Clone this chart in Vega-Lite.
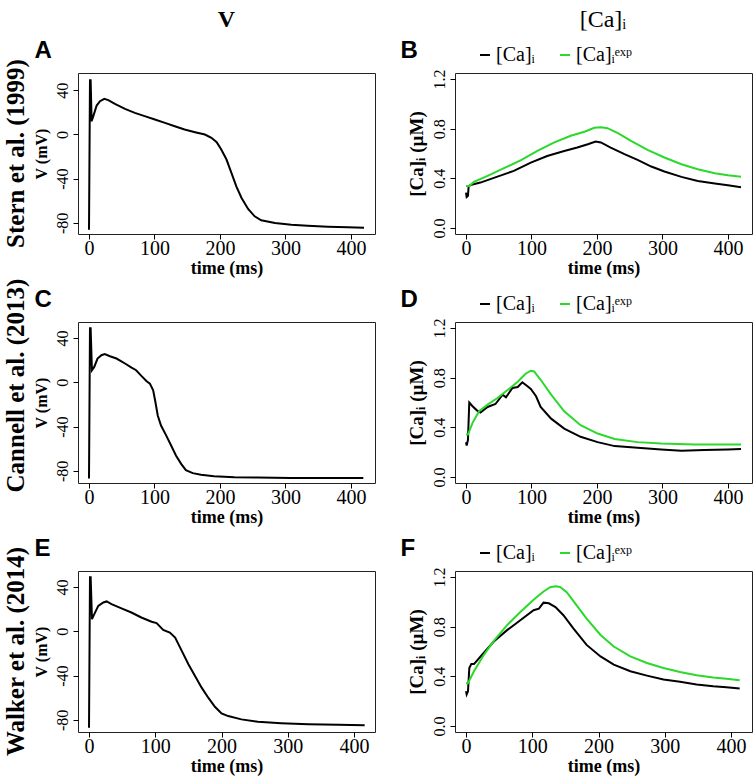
{
  "$schema": "https://vega.github.io/schema/vega-lite/v6.json",
  "background": "white",
  "padding": {"left": 3, "top": 7, "right": 2, "bottom": 2},
  "datasets": {
    "vdata": [
      {"p":"A","t":0,"v":-86.1},{"p":"A","t":1.5,"v":49},{"p":"A","t":2.5,"v":49},{"p":"A","t":4,"v":12},{"p":"A","t":6.6,"v":16.5},{"p":"A","t":11.7,"v":26.1},{"p":"A","t":16.8,"v":30},{"p":"A","t":23.4,"v":32.2},{"p":"A","t":29.5,"v":31},{"p":"A","t":39.6,"v":27.6},{"p":"A","t":55,"v":23.1},{"p":"A","t":70,"v":19.5},{"p":"A","t":85,"v":16.5},{"p":"A","t":100.6,"v":13.5},{"p":"A","t":116,"v":10.4},{"p":"A","t":131,"v":7.4},{"p":"A","t":146,"v":4.4},{"p":"A","t":162,"v":2},{"p":"A","t":177,"v":-0.1},{"p":"A","t":187,"v":-3.1},{"p":"A","t":195,"v":-7.1},{"p":"A","t":202,"v":-13.7},{"p":"A","t":210,"v":-22.7},{"p":"A","t":217.5,"v":-34.8},{"p":"A","t":225,"v":-46.9},{"p":"A","t":233,"v":-57.4},{"p":"A","t":243,"v":-67.4},{"p":"A","t":253,"v":-74},{"p":"A","t":263,"v":-77.6},{"p":"A","t":284,"v":-80.1},{"p":"A","t":309,"v":-81.6},{"p":"A","t":334,"v":-82.5},{"p":"A","t":365,"v":-83.4},{"p":"A","t":395,"v":-84},{"p":"A","t":420,"v":-84.3},
      {"p":"C","t":0,"v":-87},{"p":"C","t":1.5,"v":48.8},{"p":"C","t":2.5,"v":48.8},{"p":"C","t":4.5,"v":10.9},{"p":"C","t":8,"v":13.9},{"p":"C","t":13,"v":21.5},{"p":"C","t":19,"v":24.5},{"p":"C","t":24,"v":25.5},{"p":"C","t":32,"v":23.6},{"p":"C","t":42,"v":21.5},{"p":"C","t":55,"v":17},{"p":"C","t":65,"v":13.3},{"p":"C","t":72,"v":10.9},{"p":"C","t":80,"v":5.8},{"p":"C","t":87.6,"v":1.2},{"p":"C","t":93,"v":-1.2},{"p":"C","t":98,"v":-7.3},{"p":"C","t":101,"v":-16.4},{"p":"C","t":105,"v":-30},{"p":"C","t":110,"v":-39.1},{"p":"C","t":118,"v":-48.2},{"p":"C","t":125.6,"v":-57.3},{"p":"C","t":133,"v":-66.4},{"p":"C","t":141,"v":-73.9},{"p":"C","t":148,"v":-79.4},{"p":"C","t":158.5,"v":-82.1},{"p":"C","t":171,"v":-83.6},{"p":"C","t":191,"v":-84.8},{"p":"C","t":222,"v":-85.8},{"p":"C","t":257,"v":-86.1},{"p":"C","t":308,"v":-86.4},{"p":"C","t":419,"v":-86.4},
      {"p":"E","t":0,"v":-87.2},{"p":"E","t":1.5,"v":48.8},{"p":"E","t":2.5,"v":48.8},{"p":"E","t":4.5,"v":11},{"p":"E","t":8,"v":15.5},{"p":"E","t":14,"v":23},{"p":"E","t":21.6,"v":26.1},{"p":"E","t":26.6,"v":27},{"p":"E","t":34,"v":24.6},{"p":"E","t":49,"v":20.7},{"p":"E","t":64,"v":17},{"p":"E","t":79,"v":12.5},{"p":"E","t":94.5,"v":8.6},{"p":"E","t":102,"v":7.4},{"p":"E","t":112,"v":1.3},{"p":"E","t":122,"v":-1.1},{"p":"E","t":130,"v":-5.6},{"p":"E","t":140,"v":-17.7},{"p":"E","t":150,"v":-29.8},{"p":"E","t":160,"v":-40.4},{"p":"E","t":170,"v":-50.9},{"p":"E","t":180,"v":-60},{"p":"E","t":190,"v":-68.2},{"p":"E","t":200,"v":-74.2},{"p":"E","t":210,"v":-76.6},{"p":"E","t":230,"v":-79.6},{"p":"E","t":255,"v":-81.8},{"p":"E","t":290,"v":-83},{"p":"E","t":331,"v":-83.9},{"p":"E","t":376,"v":-84.5},{"p":"E","t":416,"v":-84.8}
    ],
    "cadata": [
      {"p":"B","s":"[Ca]ᵢ","t":0,"c":0.285},{"p":"B","s":"[Ca]ᵢ","t":1,"c":0.25},{"p":"B","s":"[Ca]ᵢ","t":3,"c":0.26},{"p":"B","s":"[Ca]ᵢ","t":4,"c":0.334},{"p":"B","s":"[Ca]ᵢ","t":7,"c":0.347},{"p":"B","s":"[Ca]ᵢ","t":22,"c":0.366},{"p":"B","s":"[Ca]ᵢ","t":48,"c":0.414},{"p":"B","s":"[Ca]ᵢ","t":73,"c":0.46},{"p":"B","s":"[Ca]ᵢ","t":99,"c":0.527},{"p":"B","s":"[Ca]ᵢ","t":124,"c":0.58},{"p":"B","s":"[Ca]ᵢ","t":150,"c":0.62},{"p":"B","s":"[Ca]ᵢ","t":170,"c":0.648},{"p":"B","s":"[Ca]ᵢ","t":186,"c":0.675},{"p":"B","s":"[Ca]ᵢ","t":198,"c":0.697},{"p":"B","s":"[Ca]ᵢ","t":206,"c":0.689},{"p":"B","s":"[Ca]ᵢ","t":221,"c":0.648},{"p":"B","s":"[Ca]ᵢ","t":242,"c":0.595},{"p":"B","s":"[Ca]ᵢ","t":262,"c":0.549},{"p":"B","s":"[Ca]ᵢ","t":283,"c":0.495},{"p":"B","s":"[Ca]ᵢ","t":303,"c":0.455},{"p":"B","s":"[Ca]ᵢ","t":329,"c":0.412},{"p":"B","s":"[Ca]ᵢ","t":354,"c":0.379},{"p":"B","s":"[Ca]ᵢ","t":380,"c":0.358},{"p":"B","s":"[Ca]ᵢ","t":400,"c":0.344},{"p":"B","s":"[Ca]ᵢ","t":420,"c":0.328},
      {"p":"B","s":"[Ca]ᵢᵉˣᵖ","t":0,"c":0.339},{"p":"B","s":"[Ca]ᵢᵉˣᵖ","t":5,"c":0.339},{"p":"B","s":"[Ca]ᵢᵉˣᵖ","t":12,"c":0.371},{"p":"B","s":"[Ca]ᵢᵉˣᵖ","t":33,"c":0.42},{"p":"B","s":"[Ca]ᵢᵉˣᵖ","t":58,"c":0.482},{"p":"B","s":"[Ca]ᵢᵉˣᵖ","t":84,"c":0.546},{"p":"B","s":"[Ca]ᵢᵉˣᵖ","t":109,"c":0.621},{"p":"B","s":"[Ca]ᵢᵉˣᵖ","t":135,"c":0.689},{"p":"B","s":"[Ca]ᵢᵉˣᵖ","t":160,"c":0.743},{"p":"B","s":"[Ca]ᵢᵉˣᵖ","t":181,"c":0.775},{"p":"B","s":"[Ca]ᵢᵉˣᵖ","t":196,"c":0.807},{"p":"B","s":"[Ca]ᵢᵉˣᵖ","t":206,"c":0.812},{"p":"B","s":"[Ca]ᵢᵉˣᵖ","t":216,"c":0.804},{"p":"B","s":"[Ca]ᵢᵉˣᵖ","t":232,"c":0.764},{"p":"B","s":"[Ca]ᵢᵉˣᵖ","t":252,"c":0.702},{"p":"B","s":"[Ca]ᵢᵉˣᵖ","t":278,"c":0.627},{"p":"B","s":"[Ca]ᵢᵉˣᵖ","t":303,"c":0.568},{"p":"B","s":"[Ca]ᵢᵉˣᵖ","t":329,"c":0.514},{"p":"B","s":"[Ca]ᵢᵉˣᵖ","t":354,"c":0.473},{"p":"B","s":"[Ca]ᵢᵉˣᵖ","t":380,"c":0.441},{"p":"B","s":"[Ca]ᵢᵉˣᵖ","t":400,"c":0.425},{"p":"B","s":"[Ca]ᵢᵉˣᵖ","t":420,"c":0.412},
      {"p":"D","s":"[Ca]ᵢ","t":0,"c":0.28},{"p":"D","s":"[Ca]ᵢ","t":1,"c":0.254},{"p":"D","s":"[Ca]ᵢ","t":3,"c":0.3},{"p":"D","s":"[Ca]ᵢ","t":5,"c":0.6},{"p":"D","s":"[Ca]ᵢ","t":10,"c":0.57},{"p":"D","s":"[Ca]ᵢ","t":17,"c":0.535},{"p":"D","s":"[Ca]ᵢ","t":22,"c":0.52},{"p":"D","s":"[Ca]ᵢ","t":33,"c":0.564},{"p":"D","s":"[Ca]ᵢ","t":45,"c":0.588},{"p":"D","s":"[Ca]ᵢ","t":56,"c":0.663},{"p":"D","s":"[Ca]ᵢ","t":61,"c":0.642},{"p":"D","s":"[Ca]ᵢ","t":71,"c":0.717},{"p":"D","s":"[Ca]ᵢ","t":79,"c":0.725},{"p":"D","s":"[Ca]ᵢ","t":86,"c":0.762},{"p":"D","s":"[Ca]ᵢ","t":91,"c":0.743},{"p":"D","s":"[Ca]ᵢ","t":99,"c":0.709},{"p":"D","s":"[Ca]ᵢ","t":107,"c":0.65},{"p":"D","s":"[Ca]ᵢ","t":114,"c":0.564},{"p":"D","s":"[Ca]ᵢ","t":130,"c":0.47},{"p":"D","s":"[Ca]ᵢ","t":150,"c":0.39},{"p":"D","s":"[Ca]ᵢ","t":175,"c":0.324},{"p":"D","s":"[Ca]ᵢ","t":201,"c":0.281},{"p":"D","s":"[Ca]ᵢ","t":227,"c":0.249},{"p":"D","s":"[Ca]ᵢ","t":262,"c":0.235},{"p":"D","s":"[Ca]ᵢ","t":298,"c":0.222},{"p":"D","s":"[Ca]ᵢ","t":329,"c":0.211},{"p":"D","s":"[Ca]ᵢ","t":364,"c":0.217},{"p":"D","s":"[Ca]ᵢ","t":400,"c":0.222},{"p":"D","s":"[Ca]ᵢ","t":420,"c":0.225},
      {"p":"D","s":"[Ca]ᵢᵉˣᵖ","t":0,"c":0.342},{"p":"D","s":"[Ca]ᵢᵉˣᵖ","t":3,"c":0.342},{"p":"D","s":"[Ca]ᵢᵉˣᵖ","t":10,"c":0.436},{"p":"D","s":"[Ca]ᵢᵉˣᵖ","t":20,"c":0.53},{"p":"D","s":"[Ca]ᵢᵉˣᵖ","t":33,"c":0.583},{"p":"D","s":"[Ca]ᵢᵉˣᵖ","t":48,"c":0.636},{"p":"D","s":"[Ca]ᵢᵉˣᵖ","t":63,"c":0.698},{"p":"D","s":"[Ca]ᵢᵉˣᵖ","t":79,"c":0.767},{"p":"D","s":"[Ca]ᵢᵉˣᵖ","t":91,"c":0.832},{"p":"D","s":"[Ca]ᵢᵉˣᵖ","t":99,"c":0.856},{"p":"D","s":"[Ca]ᵢᵉˣᵖ","t":104,"c":0.85},{"p":"D","s":"[Ca]ᵢᵉˣᵖ","t":114,"c":0.783},{"p":"D","s":"[Ca]ᵢᵉˣᵖ","t":130,"c":0.663},{"p":"D","s":"[Ca]ᵢᵉˣᵖ","t":150,"c":0.529},{"p":"D","s":"[Ca]ᵢᵉˣᵖ","t":175,"c":0.417},{"p":"D","s":"[Ca]ᵢᵉˣᵖ","t":201,"c":0.35},{"p":"D","s":"[Ca]ᵢᵉˣᵖ","t":227,"c":0.307},{"p":"D","s":"[Ca]ᵢᵉˣᵖ","t":262,"c":0.281},{"p":"D","s":"[Ca]ᵢᵉˣᵖ","t":298,"c":0.27},{"p":"D","s":"[Ca]ᵢᵉˣᵖ","t":349,"c":0.262},{"p":"D","s":"[Ca]ᵢᵉˣᵖ","t":420,"c":0.262},
      {"p":"F","s":"[Ca]ᵢ","t":0,"c":0.281},{"p":"F","s":"[Ca]ᵢ","t":1,"c":0.255},{"p":"F","s":"[Ca]ᵢ","t":3,"c":0.28},{"p":"F","s":"[Ca]ᵢ","t":5,"c":0.467},{"p":"F","s":"[Ca]ᵢ","t":8,"c":0.499},{"p":"F","s":"[Ca]ᵢ","t":12,"c":0.499},{"p":"F","s":"[Ca]ᵢ","t":22,"c":0.56},{"p":"F","s":"[Ca]ᵢ","t":42,"c":0.68},{"p":"F","s":"[Ca]ᵢ","t":62,"c":0.772},{"p":"F","s":"[Ca]ᵢ","t":82,"c":0.852},{"p":"F","s":"[Ca]ᵢ","t":102,"c":0.932},{"p":"F","s":"[Ca]ᵢ","t":110,"c":0.945},{"p":"F","s":"[Ca]ᵢ","t":117,"c":0.993},{"p":"F","s":"[Ca]ᵢ","t":125,"c":0.988},{"p":"F","s":"[Ca]ᵢ","t":135,"c":0.958},{"p":"F","s":"[Ca]ᵢ","t":147,"c":0.892},{"p":"F","s":"[Ca]ᵢ","t":162,"c":0.786},{"p":"F","s":"[Ca]ᵢ","t":182,"c":0.653},{"p":"F","s":"[Ca]ᵢ","t":203,"c":0.56},{"p":"F","s":"[Ca]ᵢ","t":223,"c":0.494},{"p":"F","s":"[Ca]ᵢ","t":248,"c":0.441},{"p":"F","s":"[Ca]ᵢ","t":273,"c":0.406},{"p":"F","s":"[Ca]ᵢ","t":298,"c":0.374},{"p":"F","s":"[Ca]ᵢ","t":323,"c":0.356},{"p":"F","s":"[Ca]ᵢ","t":348,"c":0.334},{"p":"F","s":"[Ca]ᵢ","t":373,"c":0.321},{"p":"F","s":"[Ca]ᵢ","t":393,"c":0.313},{"p":"F","s":"[Ca]ᵢ","t":413,"c":0.303},
      {"p":"F","s":"[Ca]ᵢᵉˣᵖ","t":0,"c":0.345},{"p":"F","s":"[Ca]ᵢᵉˣᵖ","t":3,"c":0.345},{"p":"F","s":"[Ca]ᵢᵉˣᵖ","t":12,"c":0.441},{"p":"F","s":"[Ca]ᵢᵉˣᵖ","t":27,"c":0.573},{"p":"F","s":"[Ca]ᵢᵉˣᵖ","t":42,"c":0.685},{"p":"F","s":"[Ca]ᵢᵉˣᵖ","t":62,"c":0.812},{"p":"F","s":"[Ca]ᵢᵉˣᵖ","t":82,"c":0.918},{"p":"F","s":"[Ca]ᵢᵉˣᵖ","t":102,"c":1.017},{"p":"F","s":"[Ca]ᵢᵉˣᵖ","t":117,"c":1.083},{"p":"F","s":"[Ca]ᵢᵉˣᵖ","t":127,"c":1.118},{"p":"F","s":"[Ca]ᵢᵉˣᵖ","t":135,"c":1.126},{"p":"F","s":"[Ca]ᵢᵉˣᵖ","t":142,"c":1.12},{"p":"F","s":"[Ca]ᵢᵉˣᵖ","t":152,"c":1.078},{"p":"F","s":"[Ca]ᵢᵉˣᵖ","t":167,"c":0.972},{"p":"F","s":"[Ca]ᵢᵉˣᵖ","t":182,"c":0.865},{"p":"F","s":"[Ca]ᵢᵉˣᵖ","t":203,"c":0.733},{"p":"F","s":"[Ca]ᵢᵉˣᵖ","t":223,"c":0.64},{"p":"F","s":"[Ca]ᵢᵉˣᵖ","t":248,"c":0.56},{"p":"F","s":"[Ca]ᵢᵉˣᵖ","t":273,"c":0.507},{"p":"F","s":"[Ca]ᵢᵉˣᵖ","t":298,"c":0.467},{"p":"F","s":"[Ca]ᵢᵉˣᵖ","t":323,"c":0.435},{"p":"F","s":"[Ca]ᵢᵉˣᵖ","t":348,"c":0.409},{"p":"F","s":"[Ca]ᵢᵉˣᵖ","t":373,"c":0.39},{"p":"F","s":"[Ca]ᵢᵉˣᵖ","t":393,"c":0.38},{"p":"F","s":"[Ca]ᵢᵉˣᵖ","t":413,"c":0.369}
    ]
  },
  "hconcat": [
    {
      "title": {"text": "V", "fontSize": 24, "fontWeight": "bold", "font": "Liberation Serif", "anchor": "middle", "offset": 6, "dx": 37},
      "spacing": 88,
      "bounds": "flush",
      "resolve": {"scale": {"x": "independent", "y": "independent"}},
      "vconcat": [
        {
          "width": 297, "height": 161,
          "title": {"text": "Stern et al. (1999)", "orient": "left", "anchor": "middle", "frame": "group", "fontSize": 25, "fontWeight": "bold", "font": "Liberation Serif", "offset": 4, "dx": 0},
          "data": {"name": "vdata"},
          "transform": [{"filter": "datum.p === 'A'"}],
          "resolve": {"axis": {"x": "independent"}},
          "layer": [
            {
              "mark": {"type": "line", "color": "black", "strokeWidth": 2},
              "encoding": {
                "x": {"field": "t", "type": "quantitative", "scale": {"domain": [-16.8, 436.8], "nice": false, "zero": false}, "axis": {"values": [0, 100, 200, 300, 400], "title": "time (ms)"}},
                "y": {"field": "v", "type": "quantitative", "scale": {"domain": [-90, 55.5], "nice": false, "zero": false}, "axis": {"values": [-80, -60, -40, -20, 0, 20, 40], "labelExpr": "datum.value % 40 === 0 ? '' + datum.value : ''", "title": "V (mV)"}}
              }
            },
            {
              "mark": {"type": "line", "strokeOpacity": 0},
              "encoding": {
                "x": {"field": "t", "type": "quantitative", "axis": {"orient": "top", "labels": false, "ticks": false, "domain": false, "title": "A", "titleFont": "Liberation Sans", "titleFontSize": 24, "titleFontWeight": "bold", "titleX": -44, "titleY": -16, "titleAlign": "left", "titleBaseline": "alphabetic", "titleAngle": 0}},
                "y": {"field": "v", "type": "quantitative"}
              }
            }
          ]
        },
        {
          "width": 297, "height": 161,
          "title": {"text": "Cannell et al.  (2013)", "orient": "left", "anchor": "middle", "frame": "group", "fontSize": 25, "fontWeight": "bold", "font": "Liberation Serif", "offset": 4, "dx": 17},
          "data": {"name": "vdata"},
          "transform": [{"filter": "datum.p === 'C'"}],
          "resolve": {"axis": {"x": "independent"}},
          "layer": [
            {
              "mark": {"type": "line", "color": "black", "strokeWidth": 2},
              "encoding": {
                "x": {"field": "t", "type": "quantitative", "scale": {"domain": [-16.8, 436.8], "nice": false, "zero": false}, "axis": {"values": [0, 100, 200, 300, 400], "title": "time (ms)"}},
                "y": {"field": "v", "type": "quantitative", "scale": {"domain": [-91, 54.5], "nice": false, "zero": false}, "axis": {"values": [-80, -60, -40, -20, 0, 20, 40], "labelExpr": "datum.value % 40 === 0 ? '' + datum.value : ''", "title": "V (mV)"}}
              }
            },
            {
              "mark": {"type": "line", "strokeOpacity": 0},
              "encoding": {
                "x": {"field": "t", "type": "quantitative", "axis": {"orient": "top", "labels": false, "ticks": false, "domain": false, "title": "C", "titleFont": "Liberation Sans", "titleFontSize": 24, "titleFontWeight": "bold", "titleX": -44, "titleY": -16, "titleAlign": "left", "titleBaseline": "alphabetic", "titleAngle": 0}},
                "y": {"field": "v", "type": "quantitative"}
              }
            }
          ]
        },
        {
          "width": 297, "height": 161,
          "title": {"text": "Walker et al. (2014)", "orient": "left", "anchor": "middle", "frame": "group", "fontSize": 25, "fontWeight": "bold", "font": "Liberation Serif", "offset": 4, "dx": 0},
          "data": {"name": "vdata"},
          "transform": [{"filter": "datum.p === 'E'"}],
          "resolve": {"axis": {"x": "independent"}},
          "layer": [
            {
              "mark": {"type": "line", "color": "black", "strokeWidth": 2},
              "encoding": {
                "x": {"field": "t", "type": "quantitative", "scale": {"domain": [-16.6, 431.6], "nice": false, "zero": false}, "axis": {"values": [0, 100, 200, 300, 400], "title": "time (ms)"}},
                "y": {"field": "v", "type": "quantitative", "scale": {"domain": [-91, 54.5], "nice": false, "zero": false}, "axis": {"values": [-80, -60, -40, -20, 0, 20, 40], "labelExpr": "datum.value % 40 === 0 ? '' + datum.value : ''", "title": "V (mV)"}}
              }
            },
            {
              "mark": {"type": "line", "strokeOpacity": 0},
              "encoding": {
                "x": {"field": "t", "type": "quantitative", "axis": {"orient": "top", "labels": false, "ticks": false, "domain": false, "title": "E", "titleFont": "Liberation Sans", "titleFontSize": 24, "titleFontWeight": "bold", "titleX": -44, "titleY": -16, "titleAlign": "left", "titleBaseline": "alphabetic", "titleAngle": 0}},
                "y": {"field": "v", "type": "quantitative"}
              }
            }
          ]
        }
      ]
    },
    {
      "title": {"text": "[Ca]ᵢ", "fontSize": 24, "fontWeight": "normal", "font": "Liberation Serif, DejaVu Serif", "anchor": "middle", "offset": 6, "dx": 27},
      "spacing": 88,
      "bounds": "flush",
      "resolve": {"scale": {"x": "independent", "y": "independent", "color": "independent"}, "legend": {"color": "independent"}},
      "vconcat": [
        {
          "width": 297, "height": 161,
          "data": {"name": "cadata"},
          "transform": [{"filter": "datum.p === 'B'"}],
          "resolve": {"axis": {"x": "independent"}},
          "layer": [
            {
              "mark": {"type": "line", "strokeWidth": 2},
              "encoding": {
                "x": {"field": "t", "type": "quantitative", "scale": {"domain": [-16.8, 436.8], "nice": false, "zero": false}, "axis": {"values": [0, 100, 200, 300, 400], "title": "time (ms)"}},
                "y": {"field": "c", "type": "quantitative", "scale": {"domain": [-0.048, 1.248], "nice": false, "zero": false}, "axis": {"values": [0, 0.2, 0.4, 0.6, 0.8, 1.0, 1.2], "labelExpr": "round(datum.value * 10) % 4 === 0 ? format(datum.value, '.1f') : ''", "title": "[Ca]ᵢ (µM)", "titleFontSize": 19}},
                "color": {"field": "s", "type": "nominal", "scale": {"domain": ["[Ca]ᵢ", "[Ca]ᵢᵉˣᵖ"], "range": ["black", "#2bd92b"]}, "legend": {"orient": "none", "legendX": 20, "legendY": -28, "direction": "horizontal", "title": null}}
              }
            },
            {
              "mark": {"type": "line", "strokeOpacity": 0},
              "encoding": {
                "x": {"field": "t", "type": "quantitative", "axis": {"orient": "top", "labels": false, "ticks": false, "domain": false, "title": "B", "titleFont": "Liberation Sans", "titleFontSize": 24, "titleFontWeight": "bold", "titleX": -55, "titleY": -16, "titleAlign": "left", "titleBaseline": "alphabetic", "titleAngle": 0}},
                "y": {"field": "c", "type": "quantitative"}
              }
            }
          ]
        },
        {
          "width": 297, "height": 161,
          "data": {"name": "cadata"},
          "transform": [{"filter": "datum.p === 'D'"}],
          "resolve": {"axis": {"x": "independent"}},
          "layer": [
            {
              "mark": {"type": "line", "strokeWidth": 2},
              "encoding": {
                "x": {"field": "t", "type": "quantitative", "scale": {"domain": [-16.8, 436.8], "nice": false, "zero": false}, "axis": {"values": [0, 100, 200, 300, 400], "title": "time (ms)"}},
                "y": {"field": "c", "type": "quantitative", "scale": {"domain": [-0.048, 1.248], "nice": false, "zero": false}, "axis": {"values": [0, 0.2, 0.4, 0.6, 0.8, 1.0, 1.2], "labelExpr": "round(datum.value * 10) % 4 === 0 ? format(datum.value, '.1f') : ''", "title": "[Ca]ᵢ (µM)", "titleFontSize": 19}},
                "color": {"field": "s", "type": "nominal", "scale": {"domain": ["[Ca]ᵢ", "[Ca]ᵢᵉˣᵖ"], "range": ["black", "#2bd92b"]}, "legend": {"orient": "none", "legendX": 20, "legendY": -28, "direction": "horizontal", "title": null}}
              }
            },
            {
              "mark": {"type": "line", "strokeOpacity": 0},
              "encoding": {
                "x": {"field": "t", "type": "quantitative", "axis": {"orient": "top", "labels": false, "ticks": false, "domain": false, "title": "D", "titleFont": "Liberation Sans", "titleFontSize": 24, "titleFontWeight": "bold", "titleX": -55, "titleY": -16, "titleAlign": "left", "titleBaseline": "alphabetic", "titleAngle": 0}},
                "y": {"field": "c", "type": "quantitative"}
              }
            }
          ]
        },
        {
          "width": 297, "height": 161,
          "data": {"name": "cadata"},
          "transform": [{"filter": "datum.p === 'F'"}],
          "resolve": {"axis": {"x": "independent"}},
          "layer": [
            {
              "mark": {"type": "line", "strokeWidth": 2},
              "encoding": {
                "x": {"field": "t", "type": "quantitative", "scale": {"domain": [-16.6, 431.6], "nice": false, "zero": false}, "axis": {"values": [0, 100, 200, 300, 400], "title": "time (ms)"}},
                "y": {"field": "c", "type": "quantitative", "scale": {"domain": [-0.048, 1.248], "nice": false, "zero": false}, "axis": {"values": [0, 0.2, 0.4, 0.6, 0.8, 1.0, 1.2], "labelExpr": "round(datum.value * 10) % 4 === 0 ? format(datum.value, '.1f') : ''", "title": "[Ca]ᵢ (µM)", "titleFontSize": 19}},
                "color": {"field": "s", "type": "nominal", "scale": {"domain": ["[Ca]ᵢ", "[Ca]ᵢᵉˣᵖ"], "range": ["black", "#2bd92b"]}, "legend": {"orient": "none", "legendX": 20, "legendY": -28, "direction": "horizontal", "title": null}}
              }
            },
            {
              "mark": {"type": "line", "strokeOpacity": 0},
              "encoding": {
                "x": {"field": "t", "type": "quantitative", "axis": {"orient": "top", "labels": false, "ticks": false, "domain": false, "title": "F", "titleFont": "Liberation Sans", "titleFontSize": 24, "titleFontWeight": "bold", "titleX": -55, "titleY": -16, "titleAlign": "left", "titleBaseline": "alphabetic", "titleAngle": 0}},
                "y": {"field": "c", "type": "quantitative"}
              }
            }
          ]
        }
      ]
    }
  ],
  "spacing": 23,
  "resolve": {"scale": {"x": "independent", "y": "independent", "color": "independent"}, "legend": {"color": "independent"}},
  "config": {
    "view": {"stroke": "#222222", "strokeWidth": 1},
    "title": {"color": "black"},
    "axis": {"labelFont": "Liberation Serif", "titleFont": "Liberation Serif, DejaVu Serif", "titleFontWeight": "bold", "domain": false, "grid": false, "tickColor": "black", "labelColor": "black", "titleColor": "black", "tickSize": 5},
    "axisX": {"labelFontSize": 20, "titleFontSize": 18, "labelPadding": -1, "titlePadding": 1, "labelFlush": false},
    "axisY": {"labelFontSize": 16, "titleFontSize": 16, "labelAngle": 270, "labelAlign": "center", "labelBaseline": "bottom", "labelPadding": 3, "titlePadding": 5},
    "legend": {"symbolType": "stroke", "symbolStrokeWidth": 2, "symbolSize": 100, "labelFont": "Liberation Serif, DejaVu Serif", "labelFontSize": 20, "labelColor": "black", "columnPadding": 20, "labelOffset": 1, "padding": 0}
  }
}
